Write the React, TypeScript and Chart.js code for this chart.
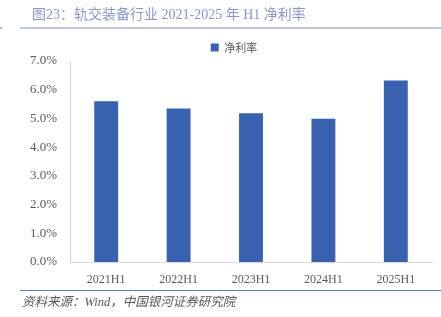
import React, { useEffect, useRef } from "react";
import { Chart, registerables } from "chart.js";

Chart.register(...registerables);

const categories = ["2021H1", "2022H1", "2023H1", "2024H1", "2025H1"];
const netMargin = [5.6, 5.35, 5.18, 4.99, 6.32];
const yTicks = [0, 1, 2, 3, 4, 5, 6, 7];
const seriesName = "净利率";
const titleText = "图23：轨交装备行业 2021-2025 年 H1 净利率";
const sourceText = "资料来源：Wind，中国银河证券研究院";

const W = 441;
const H = 317;

const legendShiftPlugin = {
  id: "legendShift",
  afterLayout(chart: any) {
    const lg = chart.legend;
    if (lg) {
      lg.left += 18;
      lg.right += 18;
      lg.top += 2;
      lg.bottom += 2;
    }
  },
};

const decorPlugin = {
  id: "decor",
  afterDraw(chart: any) {
    const ctx = chart.ctx;
    ctx.save();
    // title
    ctx.fillStyle = "#8797C9";
    ctx.font = "14px 'Liberation Serif', 'Noto Sans CJK SC'";
    ctx.textBaseline = "middle";
    ctx.textAlign = "left";
    ctx.fillText(titleText, 32, 15);
    // title rule
    ctx.strokeStyle = "#A9B6D9";
    ctx.lineWidth = 1.5;
    ctx.beginPath();
    ctx.moveTo(20, 28);
    ctx.lineTo(W, 28);
    ctx.stroke();
    ctx.fillStyle = "#A9B6D9";
    ctx.fillRect(0, 27, 2, 2);
    // footer rule
    ctx.strokeStyle = "#5A7DC0";
    ctx.lineWidth = 1;
    ctx.beginPath();
    ctx.moveTo(20, 290.5);
    ctx.lineTo(W, 290.5);
    ctx.stroke();
    // source
    ctx.fillStyle = "#555555";
    ctx.font = "italic 12.5px 'Liberation Serif', 'Noto Sans CJK SC'";
    ctx.fillText(sourceText, 22, 303);
    ctx.restore();
  },
};

export default function App() {
  const ref = useRef<HTMLCanvasElement | null>(null);
  useEffect(() => {
    document.body.style.margin = "0";
    const chart = new Chart(ref.current as HTMLCanvasElement, {
      type: "bar",
      data: {
        labels: categories,
        datasets: [
          {
            label: seriesName,
            data: netMargin,
            backgroundColor: "#3862AF",
            borderWidth: 0,
            categoryPercentage: 1,
            barPercentage: 0.33,
          },
        ],
      },
      options: {
        animation: false,
        responsive: false,
        devicePixelRatio: 1,
        layout: { padding: { top: 33, left: 0, right: 9, bottom: 0 } },
        plugins: {
          tooltip: { enabled: false },
          legend: {
            position: "top",
            labels: {
              boxWidth: 8,
              boxHeight: 8,
              padding: 7,
              color: "#595959",
              font: { family: "'Noto Sans CJK SC'", size: 11 },
            },
          },
        },
        scales: {
          x: {
            grid: { display: false, drawTicks: false },
            border: { display: true, color: "#D9D9D9", width: 1 },
            ticks: {
              color: "#595959",
              padding: 11,
              font: { family: "'Liberation Serif'", size: 12 },
            },
            afterFit(scale: any) {
              scale.height = 55;
            },
          },
          y: {
            min: 0,
            max: 7,
            grid: { display: false, drawTicks: false },
            border: { display: true, color: "#D9D9D9", width: 1 },
            afterBuildTicks(scale: any) {
              scale.ticks = yTicks.map((v) => ({ value: v }));
            },
            ticks: {
              color: "#595959",
              padding: 13,
              font: { family: "'Liberation Serif'", size: 13 },
              callback: (v: any) => Number(v).toFixed(1) + "%",
            },
            afterFit(scale: any) {
              scale.width = 70;
            },
          },
        },
      },
      plugins: [legendShiftPlugin, decorPlugin],
    });
    return () => chart.destroy();
  }, []);
  return (
    <div style={{ position: "relative", width: W, height: H }}>
      <canvas ref={ref} width={W} height={H} style={{ width: W, height: H, display: "block" }} />
    </div>
  );
}
